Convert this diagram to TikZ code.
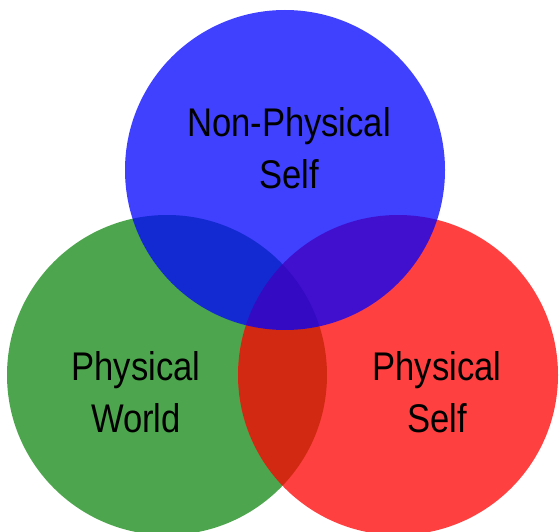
\documentclass[tikz,border=0pt]{standalone}
\usepackage{fontspec}
\setmainfont[FakeStretch=0.865]{Liberation Sans}

\definecolor{worldgreen}{RGB}{17,136,17}
\definecolor{bodyred}{RGB}{255,0,0}
\definecolor{mindblue}{RGB}{0,0,255}

\begin{document}
\begin{tikzpicture}
[
	x=1pt,y=1pt,
	set/.style={fill opacity=0.75},
	lbl/.style={align=center,font=\fontsize{40}{52}\selectfont,anchor=base,inner sep=0pt}
]
	\useasboundingbox (0,0) rectangle (559,531);

	% centres
	\coordinate (world) at (167,156);
	\coordinate (body) at (398,156);
	\coordinate (mind) at (285,361);

	% circles
	\fill[set,worldgreen] (world) circle (160pt);
	\fill[set,bodyred] (body) circle (160pt);
	\fill[set,mindblue] (mind) circle (160pt);

	% labels (base = last line)
	\node[lbl] (mindlbl) at (289,342) {Non-Physical\\Self};
	\node[lbl] (worldlbl) at (136,99) {Physical\\World};
	\node[lbl] (bodylbl) at (437,99) {Physical\\Self};

\end{tikzpicture}
\end{document}
